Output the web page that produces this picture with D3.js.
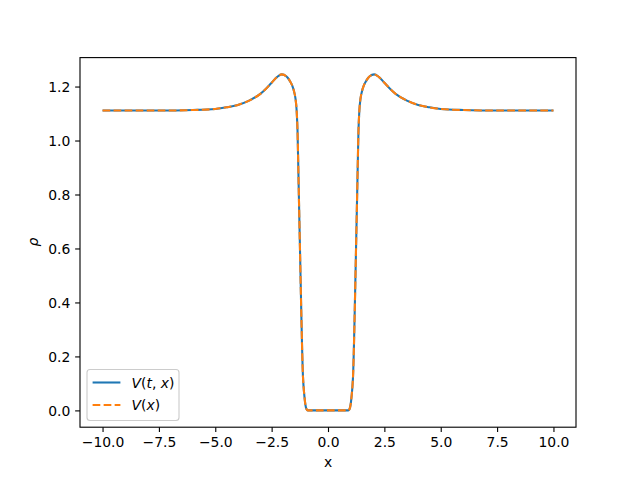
<!DOCTYPE html>
<html><head><meta charset="utf-8">
<script src="https://cdn.jsdelivr.net/npm/d3@7"></script>
<style>body{margin:0;background:#fff}svg{display:block}text{font-family:"DejaVu Sans",sans-serif}</style>
</head><body>
<svg id="c" width="640" height="480"></svg>
<script>
// Left half of the profile; the right half mirrors it
const halfX = [-10, -7.5, -6, -5, -4.5, -4, -3.5, -3, -2.75, -2.5, -2.25, -2.05, -1.85, -1.7, -1.59, -1.5, -1.44, -1.39, -1.352, -1.30, -1.24, -1.18, -1.11, -1.085, -1.05, -1.0, -0.955, -0.9, -0.5, 0];
const halfV = [1.111, 1.111, 1.113, 1.117, 1.123, 1.132, 1.148, 1.173, 1.192, 1.214, 1.236, 1.245, 1.238, 1.222, 1.204, 1.18, 1.154, 1.11, 1.037, 0.828, 0.586, 0.345, 0.125, 0.09, 0.056, 0.02, 0.005, 0.0, 0.0, 0.0];
const xValues = halfX.concat(halfX.slice(0, -1).reverse().map(v => -v));
const vtx = halfV.concat(halfV.slice(0, -1).reverse());   // V(t,x)
const vx = vtx.slice();                                     // V(x)
const xTicks = [-10, -7.5, -5, -2.5, 0, 2.5, 5, 7.5, 10];
const yTicks = [0, 0.2, 0.4, 0.6, 0.8, 1.0, 1.2];
const seriesNames = ["V(t, x)", "V(x)"];
const seriesColors = ["#1f77b4", "#ff7f0e"];

const svg = d3.select("#c");
const L = 80, R = 576, T = 57.6, B = 427.2;
const x = d3.scaleLinear().domain([-11, 11]).range([L, R]);
const ymin = 0, ymax = d3.max(vtx), pad = (ymax - ymin) * 0.05;
const y = d3.scaleLinear().domain([ymin - pad, ymax + pad]).range([B, T]);

const fmt = v => (v < 0 ? "\u2212" : "") + Math.abs(v).toFixed(1);

const line = d3.line().x((d, i) => x(xValues[i])).y(d => y(d)).curve(d3.curveMonotoneX);
svg.append("path").attr("d", line(vtx)).attr("fill", "none").attr("stroke", seriesColors[0]).attr("stroke-width", 2.08);
svg.append("path").attr("d", line(vx)).attr("fill", "none").attr("stroke", seriesColors[1]).attr("stroke-width", 2.08).attr("stroke-dasharray", "7.7,3.33");

// axes
const xa = svg.append("g").attr("transform", `translate(0,${B})`)
  .call(d3.axisBottom(x).tickValues(xTicks).tickFormat(fmt).tickSize(4.86).tickPadding(4.86));
const ya = svg.append("g").attr("transform", `translate(${L},0)`)
  .call(d3.axisLeft(y).tickValues(yTicks).tickFormat(fmt).tickSize(4.86).tickPadding(4.86));
[xa, ya].forEach(g => {
  g.select(".domain").remove();
  g.selectAll("line").attr("stroke", "#000").attr("stroke-width", 1.11);
  g.selectAll("text").attr("font-size", 13.9).attr("fill", "#000").attr("font-family", "DejaVu Sans");
});
xa.selectAll("text").attr("dy", "0.72em");
ya.selectAll("text").attr("dy", "0.36em");

svg.append("rect").attr("x", L).attr("y", T).attr("width", R - L).attr("height", B - T)
  .attr("fill", "none").attr("stroke", "#000").attr("stroke-width", 1.11);

svg.append("text").attr("x", (L + R) / 2).attr("y", 467).attr("text-anchor", "middle").attr("font-size", 13.9).text("x");
svg.append("text").attr("transform", "translate(38,242) rotate(-90)").attr("text-anchor", "middle")
  .attr("font-size", 13.9).attr("font-style", "italic").text("ρ");

// legend
const lg = svg.append("g");
lg.append("rect").attr("x", 87).attr("y", 369.5).attr("width", 92).attr("height", 51).attr("rx", 3)
  .attr("fill", "#fff").attr("fill-opacity", 0.8).attr("stroke", "#ccc").attr("stroke-width", 1.11);
const rows = [382.5, 405];
function mathLabel(g, xx, yy, name) {
  const t = g.append("text").attr("x", xx).attr("y", yy).attr("font-size", 13.9);
  const parts = name.match(/[A-Za-z]+|[^A-Za-z]+/g);
  parts.forEach(p => t.append("tspan").attr("font-style", /[A-Za-z]/.test(p) ? "italic" : "normal").text(p));
}
seriesNames.forEach((n, i) => {
  const l = lg.append("line").attr("x1", 92.6).attr("x2", 120.4).attr("y1", rows[i]).attr("y2", rows[i])
    .attr("stroke", seriesColors[i]).attr("stroke-width", 2.08);
  if (i === 1) l.attr("stroke-dasharray", "7.7,3.33");
  mathLabel(lg, 131.5, rows[i] + 5, n);
});
</script>
</body></html>
